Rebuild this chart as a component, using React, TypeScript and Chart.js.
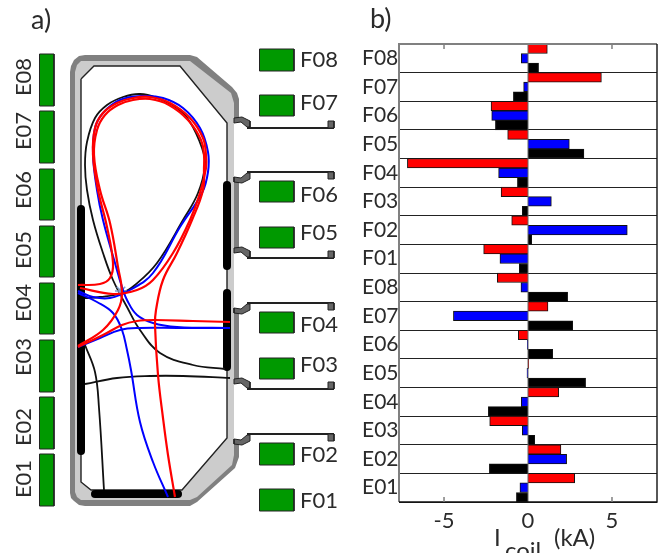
import React, { useEffect, useRef } from "react";
import { Chart, registerables } from "chart.js";
Chart.register(...registerables);

type P = [number, number];

// ---------- panel b data ----------
const coilNames = ["F08","F07","F06","F05","F04","F03","F02","F01","E08","E07","E06","E05","E04","E03","E02","E01"];
const redValues = [1.15,4.37,-2.2,-1.21,-7.18,-1.6,-0.97,-2.64,-1.83,1.19,-0.58,0.04,1.83,-2.28,1.96,2.78];
const blueValues = [-0.4,-0.26,-2.16,2.46,-1.75,1.39,5.91,-1.67,-0.42,-4.44,-0.04,-0.06,-0.4,-0.34,2.3,-0.48];
const blackValues = [0.63,-0.87,-1.94,3.33,-0.63,-0.34,0.22,-0.52,2.36,2.66,1.47,3.43,-2.36,0.4,-2.3,-0.69];
const xTicks = [-5, 0, 5];

// ---------- panel a data (schematic coordinates) ----------
const shellOuter: P[] = [[70,493],[70,72],[71,66],[74,60],[79,56],[85,55],[190,55],[197,57],[232,87],[237,93],[239,99],[239,118],[234,118],[234,181],[239,181],[239,250],[234,250],[234,311],[239,311],[239,381],[234,381],[234,442],[239,442],[239,457],[235,468],[197,502],[190,506],[85,506],[79,505],[74,501],[71,498]];
const shellInner: P[] = [[75,492],[75,72],[77,65],[81,61],[190,61],[231,93],[234,103],[234,455],[232,465],[197,497],[190,500],[81,500],[77,497]];
const vesselWall: P[] = [[81,79],[94,66],[180,66],[227,123],[227,438],[182,490],[91,490],[81,482],[81,79]];
const tileSegments: P[][] = [
  [[81,209],[81,451]],
  [[227,185],[227,266]],
  [[227,293],[227,367]],
  [[95,494],[178,494]],
];
// flange y position and the side (+1 below, -1 above) its port line lies on
const portFlanges: [number, number][] = [[120,1],[180,-1],[250,1],[311,-1],[381,1],[442,-1]];
const fCoils: [string, number, number, number][] = [
  ["F08",49,71,60],["F07",95,116,103],["F06",181,202,195],["F05",227,248,233],
  ["F04",312,333,325],["F03",358,379,365],["F02",443,465,455],["F01",489,511,501],
];
const eCoils: [string, number, number, number][] = [
  ["E08",54,106,77],["E07",111,163,131],["E06",169,220,190],["E05",226,277,250],
  ["E04",283,334,303],["E03",340,392,357],["E02",397,449,427],["E01",454,506,479],
];
const blackCurves: P[][] = [
  [[85,298],[100,297],[122,293],[135,285],[157,263],[183,220],[198,193],[205,165],[202,148],[190,122],[177,108],[157,98],[140,94],[123,97],[107,105],[95,118],[87,142],[85,165],[87,190],[93,220],[103,253],[113,280],[127,307],[140,330],[160,353],[193,365],[225,369]],
  [[85,345],[95,372],[99,408],[104,490]],
  [[85,384],[117,378],[150,376],[183,376],[230,378]],
];
const blueCurves: P[][] = [
  [[78,291],[93,297],[110,298],[130,290],[153,273],[180,227],[202,193],[208,172],[208,152],[200,128],[183,108],[163,98],[143,96],[120,100],[103,113],[95,128],[93,155],[97,190],[103,220],[115,263],[122,287],[127,300],[137,315],[153,323],[177,327],[230,328]],
  [[78,293],[97,302],[113,313],[122,330],[127,350],[131,370],[140,422],[153,462],[168,497]],
  [[78,347],[100,338],[120,330],[140,328],[177,328],[230,328]],
];
const redCurves: P[][] = [
  [[78,285],[100,284],[110,278],[113,263],[107,227],[98,190],[93,155],[95,128],[103,113],[117,103],[133,98],[150,97],[170,103],[190,118],[203,138],[206,155],[206,168],[200,193],[190,220],[173,253],[153,280],[137,290],[113,294],[80,288]],
  [[78,346],[103,330],[118,310],[122,293],[118,267],[110,223],[100,190],[94,155],[97,130],[105,115],[118,105],[133,100],[150,99],[169,105],[188,120],[201,140],[204,155],[204,168],[203,190],[192,220],[177,253],[163,280],[156,310],[155,325],[158,375],[163,418],[168,455],[175,497]],
  [[78,347],[103,335],[122,325],[137,321],[155,320],[193,321],[230,322]],
];
const xPointMarker: P[] = [[121,291]];

const boxOf = (x0: number, y0: number, x1: number, y1: number): P[] => [[x0,y0],[x1,y0],[x1,y1],[x0,y1],[x0,y0]];
const pts = (a: P[]) => a.map(([x, y]) => ({ x, y }));

const FONT = "Lato";
const INK = "#2b2b2b";

function buildSchematicDatasets() {
  const poly = (a: P[], fill: string, stroke = fill, w = 0) => ({
    data: pts(a), fill: "shape", backgroundColor: fill, borderColor: stroke, borderWidth: w, pointRadius: 0, tension: 0,
  });
  const curve = (a: P[], color: string, w: number, extra: any = {}) => ({
    data: pts(a), fill: false, borderColor: color, borderWidth: w, pointRadius: 0, tension: 0.4, ...extra,
  });
  const back: any[] = [];
  back.push(poly([...shellOuter, shellOuter[0]], "#808080"));
  back.push(poly([...shellInner, shellInner[0]], "#cccccc"));
  back.push(poly(vesselWall, "#ffffff", "#222222", 1.4));
  for (const [y, d] of portFlanges) {
    const flange: P[] = [[234,y-2*d],[242,y-3*d],[246,y-1*d],[250,y+1*d],[250,y+7*d],[247,y+7*d],[241,y+2*d],[234,y+3*d],[234,y-2*d]];
    back.push(poly(flange, "#666666", "#222222", 1));
    const lineY = y + 8 * d;
    back.push(curve([[247,lineY],[334,lineY]], "#222222", 2, { tension: 0 }));
    const sqA = d > 0 ? lineY - 7 : lineY;
    back.push(poly(boxOf(328, sqA, 334, sqA + 7), "#666666", "#222222", 1));
  }
  for (const [, y0, y1] of fCoils) back.push(poly(boxOf(259.5, y0, 294, y1), "#009900", "#222222", 1));
  for (const [, y0, y1] of eCoils) back.push(poly(boxOf(39.5, y0, 54, y1), "#009900", "#222222", 1));
  for (const t of tileSegments) back.push(curve(t, "#000000", 8, { tension: 0, borderCapStyle: "round" }));
  for (const c of blackCurves) back.push(curve(c, "#111111", 1.8));
  back.push({ data: pts(xPointMarker), showLine: false, pointStyle: "star", pointRadius: 6, pointBorderColor: "#7f9fd0", pointBorderWidth: 1.5 });
  for (const c of blueCurves) back.push(curve(c, "#0000ff", 2));
  for (const c of redCurves) back.push(curve(c, "#ff0000", 2.2));
  return back.reverse();
}

const schematicText = {
  id: "schematicText",
  afterDraw(chart: any) {
    const { ctx, scales: { x, y } } = chart;
    ctx.save();
    ctx.fillStyle = INK;
    ctx.textBaseline = "middle";
    ctx.font = `22px ${FONT}`;
    ctx.textAlign = "left";
    for (const [name, , , ly] of fCoils) ctx.fillText(name, x.getPixelForValue(300), y.getPixelForValue(ly));
    ctx.textAlign = "center";
    for (const [name, , , ly] of eCoils) {
      ctx.save();
      ctx.translate(x.getPixelForValue(24), y.getPixelForValue(ly));
      ctx.rotate(-Math.PI / 2);
      ctx.fillText(name, 0, 0);
      ctx.restore();
    }
    ctx.font = `27px ${FONT}`;
    ctx.textAlign = "left";
    ctx.fillText("a)", x.getPixelForValue(31), y.getPixelForValue(20));
    ctx.restore();
  },
};

const barExtras = {
  id: "barExtras",
  afterDatasetsDraw(chart: any) {
    const { ctx, chartArea: a, scales: { x } } = chart;
    ctx.save();
    // zero line
    ctx.strokeStyle = "#666";
    ctx.lineWidth = 1;
    ctx.beginPath();
    ctx.moveTo(x.getPixelForValue(0), a.top);
    ctx.lineTo(x.getPixelForValue(0), a.bottom);
    ctx.stroke();
    // frame
    ctx.lineWidth = 2;
    ctx.strokeStyle = "#808080";
    ctx.beginPath();
    ctx.moveTo(a.left, a.bottom);
    ctx.lineTo(a.left, a.top);
    ctx.lineTo(a.right, a.top);
    ctx.stroke();
    ctx.lineWidth = 1.4;
    ctx.strokeStyle = "#111";
    ctx.beginPath();
    ctx.moveTo(a.left, a.bottom);
    ctx.lineTo(a.right, a.bottom);
    ctx.lineTo(a.right, a.top);
    ctx.stroke();
    // inward ticks
    for (const v of xTicks) {
      if (v === 0) continue;
      const px = x.getPixelForValue(v);
      ctx.lineWidth = 1.5;
      ctx.strokeStyle = "#808080";
      ctx.beginPath();
      ctx.moveTo(px, a.top);
      ctx.lineTo(px, a.top + 5);
      ctx.moveTo(px, a.bottom);
      ctx.lineTo(px, a.bottom - 5);
      ctx.stroke();
    }
    // text
    ctx.fillStyle = INK;
    ctx.textBaseline = "alphabetic";
    ctx.textAlign = "left";
    ctx.font = `27px ${FONT}`;
    ctx.fillText("b)", 25, 28);
    ctx.font = `24px ${FONT}`;
    ctx.fillText("I", 149, 546);
    ctx.fillText("coil", 160, 559);
    ctx.fillText("(kA)", 209, 546);
    ctx.restore();
  },
};

export default function App() {
  const leftRef = useRef<HTMLCanvasElement>(null);
  const rightRef = useRef<HTMLCanvasElement>(null);

  useEffect(() => {
    const left = new Chart(leftRef.current!, {
      type: "line",
      data: { datasets: buildSchematicDatasets() },
      plugins: [schematicText],
      options: {
        animation: false,
        responsive: false,
        layout: { padding: 0, autoPadding: false },
        plugins: { legend: { display: false }, tooltip: { enabled: false }, title: { display: false } },
        scales: {
          x: { type: "linear", display: false, min: 0, max: 345 },
          y: { type: "linear", display: false, min: 0, max: 553, reverse: true },
        },
      },
    } as any);

    const barStyle = { borderWidth: 1, borderColor: "#111", barPercentage: 1, categoryPercentage: 1 };
    const right = new Chart(rightRef.current!, {
      type: "bar",
      data: {
        labels: coilNames,
        datasets: [
          { label: "red", data: redValues, backgroundColor: "#ff0000", ...barStyle },
          { label: "blue", data: blueValues, backgroundColor: "#0000ff", ...barStyle },
          { label: "black", data: blackValues, backgroundColor: "#000000", ...barStyle },
        ],
      },
      plugins: [barExtras],
      options: {
        animation: false,
        responsive: false,
        indexAxis: "y",
        layout: { padding: { left: 17, top: 44, right: 5, bottom: 0 }, autoPadding: false },
        plugins: { legend: { display: false }, tooltip: { enabled: false }, title: { display: false } },
        scales: {
          x: {
            type: "linear",
            min: -7.68,
            max: 7.68,
            afterFit: (s: any) => { s.height = 51; },
            afterBuildTicks: (s: any) => { s.ticks = xTicks.map((value) => ({ value })); },
            grid: { display: false, drawTicks: false },
            border: { display: false },
            ticks: {
              padding: 6,
              color: INK,
              font: { family: FONT, size: 22 },
              maxRotation: 0,
              autoSkip: false,
              callback: (v: any) => String(v),
            },
          },
          y: {
            type: "category",
            afterFit: (s: any) => { s.width = 37; },
            grid: { offset: true, color: "#222", lineWidth: 1, drawTicks: false },
            border: { display: false },
            ticks: {
              crossAlign: "far",
              color: INK,
              font: { family: FONT, size: 21 },
              autoSkip: false,
              padding: 0,
            },
          },
        },
      },
    } as any);

    return () => { left.destroy(); right.destroy(); };
  }, []);

  return (
    <div style={{ position: "absolute", left: 0, top: 0, width: 662, height: 553, background: "#fff" }}>
      <canvas ref={leftRef} width={345} height={553} style={{ position: "absolute", left: 0, top: 0 }} />
      <canvas ref={rightRef} width={317} height={553} style={{ position: "absolute", left: 345, top: 0 }} />
    </div>
  );
}
